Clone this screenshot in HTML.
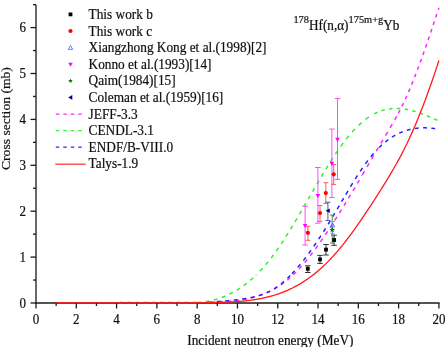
<!DOCTYPE html><html><head><meta charset="utf-8"><style>html,body{margin:0;padding:0;background:#fff;overflow:hidden;width:445px;height:347px;}svg{display:block;filter:blur(0.3px);}text{stroke:#111;stroke-width:0.2px;font-family:"Liberation Serif",serif;}</style></head><body>
<svg width="445" height="347" viewBox="0 0 445 347">
<rect width="445" height="347" fill="#fff"/>
<path d="M195.00 302.58 L195.25 302.57 L195.50 302.56 L195.75 302.55 L196.00 302.54 L196.25 302.53 L196.50 302.52 L196.75 302.51 L197.00 302.49 L197.25 302.48 L197.50 302.46 L197.75 302.45 L198.00 302.43 L198.25 302.42 L198.50 302.40 L198.75 302.38 L199.00 302.36 L199.25 302.34 L199.50 302.32 L199.75 302.30 L200.00 302.28 L200.25 302.26 L200.50 302.24 L200.75 302.21 L201.00 302.19 L201.25 302.16 L201.50 302.14 L201.75 302.11 L202.00 302.09 L202.25 302.06 L202.50 302.03 L202.75 302.00 L203.00 301.97 L203.25 301.94 L203.50 301.91 L203.75 301.88 L204.00 301.84 L204.25 301.81 L204.50 301.77 L204.75 301.74 L205.00 301.70 L205.25 301.67 L205.50 301.63 L205.75 301.59 L206.00 301.55 L206.25 301.51 L206.50 301.47 L206.75 301.43 L207.00 301.39 L207.25 301.35 L207.50 301.30 L207.75 301.26 L208.00 301.21 L208.25 301.17 L208.50 301.12 L208.75 301.07 L209.00 301.02 L209.25 300.98 L209.50 300.93 L209.75 300.87 L210.00 300.82 L210.25 300.77 L210.50 300.72 L210.75 300.66 L211.00 300.61 L211.25 300.55 L211.50 300.50 L211.75 300.44 L212.00 300.38 L212.25 300.32 L212.50 300.26 L212.75 300.20 L213.00 300.14 L213.25 300.08 L213.50 300.02 L213.75 299.95 L214.00 299.89 L214.25 299.82 L214.50 299.76 L214.75 299.69 L215.00 299.62 L215.25 299.55 L215.50 299.48 L215.75 299.41 L216.00 299.34 L216.25 299.27 L216.50 299.20 L216.75 299.12 L217.00 299.05 L217.25 298.97 L217.50 298.89 L217.75 298.82 L218.00 298.74 L218.25 298.66 L218.50 298.58 L218.75 298.50 L219.00 298.42 L219.25 298.33 L219.50 298.25 L219.75 298.16 L220.00 298.08 L220.25 297.99 L220.50 297.90 L220.75 297.82 L221.00 297.73 L221.25 297.64 L221.50 297.55 L221.75 297.45 L222.00 297.36 L222.25 297.27 L222.50 297.17 L222.75 297.08 L223.00 296.98 L223.25 296.88 L223.50 296.78 L223.75 296.68 L224.00 296.58 L224.25 296.48 L224.50 296.38 L224.75 296.28 L225.00 296.17 L225.25 296.07 L225.50 295.96 L225.75 295.86 L226.00 295.75 L226.25 295.64 L226.50 295.53 L226.75 295.42 L227.00 295.31 L227.25 295.19 L227.50 295.08 L227.75 294.96 L228.00 294.85 L228.25 294.73 L228.50 294.61 L228.75 294.50 L229.00 294.38 L229.25 294.25 L229.50 294.13 L229.75 294.01 L230.00 293.89 L230.25 293.76 L230.50 293.64 L230.75 293.51 L231.00 293.38 L231.25 293.25 L231.50 293.12 L231.75 292.99 L232.00 292.86 L232.25 292.73 L232.50 292.59 L232.75 292.46 L233.00 292.32 L233.25 292.19 L233.50 292.05 L233.75 291.91 L234.00 291.77 L234.25 291.63 L234.50 291.49 L234.75 291.34 L235.00 291.20 L235.25 291.05 L235.50 290.91 L235.75 290.76 L236.00 290.61 L236.25 290.46 L236.50 290.31 L236.75 290.16 L237.00 290.01 L237.25 289.85 L237.50 289.70 L237.75 289.54 L238.00 289.38 L238.25 289.23 L238.50 289.07 L238.75 288.91 L239.00 288.74 L239.25 288.58 L239.50 288.42 L239.75 288.25 L240.00 288.09 L240.25 287.92 L240.50 287.75 L240.75 287.58 L241.00 287.41 L241.25 287.24 L241.50 287.07 L241.75 286.89 L242.00 286.72 L242.25 286.54 L242.50 286.37 L242.75 286.19 L243.00 286.01 L243.25 285.83 L243.50 285.65 L243.75 285.47 L244.00 285.28 L244.25 285.10 L244.50 284.91 L244.75 284.72 L245.00 284.53 L245.25 284.34 L245.50 284.15 L245.75 283.96 L246.00 283.77 L246.25 283.57 L246.50 283.38 L246.75 283.18 L247.00 282.99 L247.25 282.79 L247.50 282.59 L247.75 282.38 L248.00 282.18 L248.25 281.98 L248.50 281.77 L248.75 281.57 L249.00 281.36 L249.25 281.15 L249.50 280.94 L249.75 280.73 L250.00 280.52 L250.25 280.31 L250.50 280.09 L250.75 279.88 L251.00 279.66 L251.25 279.44 L251.50 279.22 L251.75 279.00 L252.00 278.78 L252.25 278.56 L252.50 278.33 L252.75 278.11 L253.00 277.88 L253.25 277.65 L253.50 277.42 L253.75 277.19 L254.00 276.96 L254.25 276.73 L254.50 276.49 L254.75 276.26 L255.00 276.02 L255.25 275.78 L255.50 275.55 L255.75 275.31 L256.00 275.06" fill="none" stroke="#33ee33" stroke-width="1.50" stroke-dasharray="3.85 4.51" stroke-dashoffset="6.12"/>
<path d="M256.00 275.06 L256.25 274.82 L256.50 274.58 L256.75 274.33 L257.00 274.08 L257.25 273.84 L257.50 273.59 L257.75 273.34 L258.00 273.08 L258.25 272.83 L258.50 272.58 L258.75 272.32 L259.00 272.06 L259.25 271.81 L259.50 271.55 L259.75 271.29 L260.00 271.02 L260.25 270.76 L260.50 270.50 L260.75 270.23 L261.00 269.96 L261.25 269.69 L261.50 269.42 L261.75 269.15 L262.00 268.88 L262.25 268.60 L262.50 268.33 L262.75 268.05 L263.00 267.77 L263.25 267.50 L263.50 267.21 L263.75 266.93 L264.00 266.65 L264.25 266.36 L264.50 266.08 L264.75 265.79 L265.00 265.50 L265.25 265.21 L265.50 264.92 L265.75 264.63 L266.00 264.33 L266.25 264.04 L266.50 263.74 L266.75 263.44 L267.00 263.14 L267.25 262.84 L267.50 262.54 L267.75 262.24 L268.00 261.93 L268.25 261.62 L268.50 261.32 L268.75 261.01 L269.00 260.70 L269.25 260.38 L269.50 260.07 L269.75 259.76 L270.00 259.44 L270.25 259.12 L270.50 258.80 L270.75 258.48 L271.00 258.16 L271.25 257.84 L271.50 257.51 L271.75 257.18 L272.00 256.86 L272.25 256.53 L272.50 256.20 L272.75 255.87 L273.00 255.53 L273.25 255.20 L273.50 254.86 L273.75 254.52 L274.00 254.18 L274.25 253.84 L274.50 253.50 L274.75 253.16 L275.00 252.81 L275.25 252.47 L275.50 252.12 L275.75 251.77 L276.00 251.42 L276.25 251.07 L276.50 250.72 L276.75 250.37 L277.00 250.01 L277.25 249.66 L277.50 249.30 L277.75 248.94 L278.00 248.58 L278.25 248.22 L278.50 247.86 L278.75 247.50 L279.00 247.13 L279.25 246.77 L279.50 246.40 L279.75 246.03 L280.00 245.66 L280.25 245.29 L280.50 244.92 L280.75 244.55 L281.00 244.18 L281.25 243.80 L281.50 243.43 L281.75 243.05 L282.00 242.67 L282.25 242.29 L282.50 241.91 L282.75 241.53 L283.00 241.15 L283.25 240.77 L283.50 240.38 L283.75 240.00 L284.00 239.61 L284.25 239.22 L284.50 238.84 L284.75 238.45 L285.00 238.06 L285.25 237.67 L285.50 237.28 L285.75 236.88 L286.00 236.49 L286.25 236.10 L286.50 235.70 L286.75 235.31 L287.00 234.91 L287.25 234.51 L287.50 234.11 L287.75 233.71 L288.00 233.31 L288.25 232.91 L288.50 232.51 L288.75 232.11 L289.00 231.70 L289.25 231.30 L289.50 230.90 L289.75 230.49 L290.00 230.08 L290.25 229.68 L290.50 229.27 L290.75 228.86 L291.00 228.45 L291.25 228.04 L291.50 227.63 L291.75 227.22 L292.00 226.81 L292.25 226.39 L292.50 225.98 L292.75 225.57 L293.00 225.15 L293.25 224.74 L293.50 224.32 L293.75 223.91 L294.00 223.49 L294.25 223.07 L294.50 222.65 L294.75 222.24 L295.00 221.82 L295.25 221.40 L295.50 220.98 L295.75 220.56 L296.00 220.13 L296.25 219.71 L296.50 219.29 L296.75 218.87 L297.00 218.45 L297.25 218.02 L297.50 217.60 L297.75 217.17 L298.00 216.75 L298.25 216.32 L298.50 215.90 L298.75 215.47 L299.00 215.05 L299.25 214.62 L299.50 214.19 L299.75 213.76 L300.00 213.34 L300.25 212.91 L300.50 212.48 L300.75 212.05 L301.00 211.62 L301.25 211.19 L301.50 210.76 L301.75 210.33 L302.00 209.90 L302.25 209.47 L302.50 209.04 L302.75 208.61 L303.00 208.18 L303.25 207.75 L303.50 207.32 L303.75 206.88 L304.00 206.45 L304.25 206.02 L304.50 205.59 L304.75 205.16 L305.00 204.72 L305.25 204.29 L305.50 203.86 L305.75 203.42 L306.00 202.99 L306.25 202.56 L306.50 202.12 L306.75 201.69 L307.00 201.26 L307.25 200.82 L307.50 200.39 L307.75 199.96 L308.00 199.52 L308.25 199.09 L308.50 198.66 L308.75 198.22 L309.00 197.79 L309.25 197.36 L309.50 196.92 L309.75 196.49 L310.00 196.06 L310.25 195.62 L310.50 195.19 L310.75 194.76 L311.00 194.32 L311.25 193.89 L311.50 193.46 L311.75 193.02 L312.00 192.59 L312.25 192.16 L312.50 191.73 L312.75 191.29 L313.00 190.86 L313.25 190.43 L313.50 190.00 L313.75 189.57 L314.00 189.14 L314.25 188.71 L314.50 188.28 L314.75 187.84 L315.00 187.41 L315.25 186.98 L315.50 186.56 L315.75 186.13 L316.00 185.70 L316.25 185.27 L316.50 184.84 L316.75 184.41 L317.00 183.98 L317.25 183.56 L317.50 183.13 L317.75 182.70 L318.00 182.28 L318.25 181.85 L318.50 181.42 L318.75 181.00 L319.00 180.57 L319.25 180.15 L319.50 179.73 L319.75 179.30 L320.00 178.88 L320.25 178.46 L320.50 178.03 L320.75 177.61 L321.00 177.19 L321.25 176.77 L321.50 176.35 L321.75 175.93 L322.00 175.51 L322.25 175.09 L322.50 174.68 L322.75 174.26 L323.00 173.84 L323.25 173.43 L323.50 173.01 L323.75 172.60 L324.00 172.18 L324.25 171.77 L324.50 171.35 L324.75 170.94 L325.00 170.53 L325.25 170.12 L325.50 169.71 L325.75 169.30 L326.00 168.89 L326.25 168.48 L326.50 168.07 L326.75 167.67 L327.00 167.26 L327.25 166.86 L327.50 166.45 L327.75 166.05 L328.00 165.65 L328.25 165.24 L328.50 164.84 L328.75 164.44 L329.00 164.04 L329.25 163.64 L329.50 163.24 L329.75 162.85 L330.00 162.45" fill="none" stroke="#33ee33" stroke-width="1.50" stroke-dasharray="4.00 4.70" stroke-dashoffset="3.36"/>
<path d="M330.00 162.45 L330.25 162.06 L330.50 161.66 L330.75 161.27 L331.00 160.87 L331.25 160.48 L331.50 160.09 L331.75 159.70 L332.00 159.31 L332.25 158.93 L332.50 158.54 L332.75 158.15 L333.00 157.77 L333.25 157.38 L333.50 157.00 L333.75 156.62 L334.00 156.24 L334.25 155.86 L334.50 155.48 L334.75 155.10 L335.00 154.72 L335.25 154.35 L335.50 153.97 L335.75 153.60 L336.00 153.23 L336.25 152.86 L336.50 152.49 L336.75 152.12 L337.00 151.75 L337.25 151.39 L337.50 151.02 L337.75 150.66 L338.00 150.29 L338.25 149.93 L338.50 149.57 L338.75 149.21 L339.00 148.85 L339.25 148.50 L339.50 148.14 L339.75 147.79 L340.00 147.43 L340.25 147.08 L340.50 146.73 L340.75 146.38 L341.00 146.04 L341.25 145.69 L341.50 145.35 L341.75 145.00 L342.00 144.66 L342.25 144.32 L342.50 143.98 L342.75 143.64 L343.00 143.30 L343.25 142.97 L343.50 142.64 L343.75 142.30 L344.00 141.97 L344.25 141.64 L344.50 141.32 L344.75 140.99 L345.00 140.66 L345.25 140.34 L345.50 140.02 L345.75 139.70 L346.00 139.38 L346.25 139.06 L346.50 138.75 L346.75 138.43 L347.00 138.12 L347.25 137.81 L347.50 137.50 L347.75 137.19 L348.00 136.89 L348.25 136.58 L348.50 136.28 L348.75 135.98 L349.00 135.68 L349.25 135.38 L349.50 135.08 L349.75 134.79 L350.00 134.49 L350.25 134.20 L350.50 133.91 L350.75 133.62 L351.00 133.34 L351.25 133.05 L351.50 132.77 L351.75 132.48 L352.00 132.20 L352.25 131.93 L352.50 131.65 L352.75 131.37 L353.00 131.10 L353.25 130.83 L353.50 130.56 L353.75 130.29 L354.00 130.02 L354.25 129.75 L354.50 129.49 L354.75 129.23 L355.00 128.96 L355.25 128.71 L355.50 128.45 L355.75 128.19 L356.00 127.94 L356.25 127.68 L356.50 127.43 L356.75 127.18 L357.00 126.93 L357.25 126.69 L357.50 126.44 L357.75 126.20 L358.00 125.96 L358.25 125.72 L358.50 125.48 L358.75 125.25 L359.00 125.01 L359.25 124.78 L359.50 124.55 L359.75 124.32 L360.00 124.09 L360.25 123.86 L360.50 123.64 L360.75 123.41 L361.00 123.19 L361.25 122.97 L361.50 122.75 L361.75 122.54 L362.00 122.32 L362.25 122.11 L362.50 121.90 L362.75 121.69 L363.00 121.48 L363.25 121.27 L363.50 121.07 L363.75 120.86 L364.00 120.66 L364.25 120.46 L364.50 120.26 L364.75 120.07 L365.00 119.87 L365.25 119.68 L365.50 119.49 L365.75 119.30 L366.00 119.11 L366.25 118.92 L366.50 118.74 L366.75 118.55 L367.00 118.37 L367.25 118.19 L367.50 118.01 L367.75 117.84 L368.00 117.66 L368.25 117.49 L368.50 117.32 L368.75 117.15 L369.00 116.98 L369.25 116.81 L369.50 116.65 L369.75 116.49 L370.00 116.33 L370.25 116.17 L370.50 116.01 L370.75 115.85 L371.00 115.70 L371.25 115.55 L371.50 115.39 L371.75 115.25 L372.00 115.10" fill="none" stroke="#33ee33" stroke-width="1.50" stroke-dasharray="4.23 4.97" stroke-dashoffset="8.38"/>
<path d="M372.00 115.10 L372.25 114.95 L372.50 114.81 L372.75 114.67 L373.00 114.52 L373.25 114.39 L373.50 114.25 L373.75 114.11 L374.00 113.98 L374.25 113.85 L374.50 113.72 L374.75 113.59 L375.00 113.46 L375.25 113.33 L375.50 113.21 L375.75 113.09 L376.00 112.97 L376.25 112.85 L376.50 112.73 L376.75 112.62 L377.00 112.51 L377.25 112.39 L377.50 112.28 L377.75 112.18 L378.00 112.07 L378.25 111.96 L378.50 111.86 L378.75 111.76 L379.00 111.66 L379.25 111.56 L379.50 111.47 L379.75 111.37 L380.00 111.28 L380.25 111.19 L380.50 111.10 L380.75 111.01 L381.00 110.92 L381.25 110.84 L381.50 110.75 L381.75 110.67 L382.00 110.59 L382.25 110.51 L382.50 110.43 L382.75 110.36 L383.00 110.28 L383.25 110.21 L383.50 110.14 L383.75 110.07 L384.00 110.00 L384.25 109.94 L384.50 109.87 L384.75 109.81 L385.00 109.75 L385.25 109.69 L385.50 109.63 L385.75 109.57 L386.00 109.51 L386.25 109.46 L386.50 109.41 L386.75 109.35 L387.00 109.30 L387.25 109.26 L387.50 109.21 L387.75 109.16 L388.00 109.12 L388.25 109.08 L388.50 109.03 L388.75 108.99 L389.00 108.96 L389.25 108.92 L389.50 108.88 L389.75 108.85 L390.00 108.81 L390.25 108.78 L390.50 108.75 L390.75 108.72 L391.00 108.70 L391.25 108.67 L391.50 108.65 L391.75 108.62 L392.00 108.60 L392.25 108.58 L392.50 108.56 L392.75 108.54 L393.00 108.52 L393.25 108.51 L393.50 108.49 L393.75 108.48 L394.00 108.47 L394.25 108.46 L394.50 108.45 L394.75 108.44 L395.00 108.43 L395.25 108.43 L395.50 108.43 L395.75 108.42 L396.00 108.42 L396.25 108.42 L396.50 108.42 L396.75 108.42 L397.00 108.43 L397.25 108.43 L397.50 108.44 L397.75 108.44 L398.00 108.45 L398.25 108.46 L398.50 108.47 L398.75 108.48 L399.00 108.49 L399.25 108.51 L399.50 108.52 L399.75 108.54 L400.00 108.56 L400.25 108.57 L400.50 108.59 L400.75 108.61 L401.00 108.64 L401.25 108.66 L401.50 108.68 L401.75 108.71 L402.00 108.73 L402.25 108.76 L402.50 108.79 L402.75 108.82 L403.00 108.85 L403.25 108.88 L403.50 108.91 L403.75 108.95 L404.00 108.98 L404.25 109.02 L404.50 109.05 L404.75 109.09 L405.00 109.13 L405.25 109.17 L405.50 109.21 L405.75 109.25 L406.00 109.29 L406.25 109.34 L406.50 109.38 L406.75 109.43 L407.00 109.47 L407.25 109.52 L407.50 109.57 L407.75 109.62 L408.00 109.67 L408.25 109.72 L408.50 109.77 L408.75 109.82 L409.00 109.88 L409.25 109.93 L409.50 109.99 L409.75 110.04 L410.00 110.10 L410.25 110.16 L410.50 110.22 L410.75 110.28 L411.00 110.34 L411.25 110.40 L411.50 110.46 L411.75 110.53 L412.00 110.59 L412.25 110.66 L412.50 110.72 L412.75 110.79 L413.00 110.86 L413.25 110.93 L413.50 111.00 L413.75 111.06 L414.00 111.14 L414.25 111.21 L414.50 111.28 L414.75 111.35 L415.00 111.43 L415.25 111.50 L415.50 111.58 L415.75 111.65 L416.00 111.73 L416.25 111.81 L416.50 111.88 L416.75 111.96 L417.00 112.04 L417.25 112.12 L417.50 112.21 L417.75 112.29 L418.00 112.37 L418.25 112.45 L418.50 112.54 L418.75 112.62 L419.00 112.71 L419.25 112.79 L419.50 112.88 L419.75 112.97 L420.00 113.05 L420.25 113.14 L420.50 113.23 L420.75 113.32 L421.00 113.41 L421.25 113.50 L421.50 113.59 L421.75 113.68 L422.00 113.78 L422.25 113.87 L422.50 113.96 L422.75 114.06 L423.00 114.15 L423.25 114.25 L423.50 114.34 L423.75 114.44 L424.00 114.54 L424.25 114.64 L424.50 114.73 L424.75 114.83 L425.00 114.93 L425.25 115.03 L425.50 115.13 L425.75 115.23 L426.00 115.33 L426.25 115.43 L426.50 115.54 L426.75 115.64 L427.00 115.74 L427.25 115.85 L427.50 115.95 L427.75 116.05 L428.00 116.16 L428.25 116.26 L428.50 116.37 L428.75 116.48 L429.00 116.58 L429.25 116.69 L429.50 116.80 L429.75 116.90 L430.00 117.01 L430.25 117.12 L430.50 117.23 L430.75 117.34 L431.00 117.45 L431.25 117.56 L431.50 117.67 L431.75 117.78 L432.00 117.89 L432.25 118.00 L432.50 118.11 L432.75 118.22 L433.00 118.34 L433.25 118.45 L433.50 118.56 L433.75 118.67 L434.00 118.79 L434.25 118.90 L434.50 119.01 L434.75 119.13 L435.00 119.24 L435.25 119.36 L435.50 119.47 L435.75 119.59 L436.00 119.70 L436.25 119.82 L436.50 119.94 L436.75 120.05 L437.00 120.17 L437.25 120.28 L437.50 120.40 L437.75 120.52 L438.00 120.63 L438.25 120.75 L438.50 120.87 L438.75 120.99 L438.90 121.06" fill="none" stroke="#33ee33" stroke-width="1.50" stroke-dasharray="3.59 4.21" stroke-dashoffset="5.22"/>
<path d="M200.00 303.00 L200.25 303.00 L200.50 303.00 L200.75 303.00 L201.00 303.00 L201.25 303.00 L201.50 303.00 L201.75 303.00 L202.00 303.00 L202.25 303.00 L202.50 303.00 L202.75 302.99 L203.00 302.97 L203.25 302.95 L203.50 302.93 L203.75 302.91 L204.00 302.89 L204.25 302.87 L204.50 302.85 L204.75 302.83 L205.00 302.81 L205.25 302.79 L205.50 302.77 L205.75 302.75 L206.00 302.73 L206.25 302.71 L206.50 302.69 L206.75 302.67 L207.00 302.66 L207.25 302.64 L207.50 302.62 L207.75 302.60 L208.00 302.58 L208.25 302.57 L208.50 302.55 L208.75 302.53 L209.00 302.52 L209.25 302.50 L209.50 302.48 L209.75 302.47 L210.00 302.45 L210.25 302.43 L210.50 302.42 L210.75 302.40 L211.00 302.39 L211.25 302.37 L211.50 302.36 L211.75 302.34 L212.00 302.32 L212.25 302.31 L212.50 302.29 L212.75 302.28 L213.00 302.26 L213.25 302.25 L213.50 302.23 L213.75 302.22 L214.00 302.20 L214.25 302.19 L214.50 302.17 L214.75 302.16 L215.00 302.15 L215.25 302.13 L215.50 302.12 L215.75 302.10 L216.00 302.09 L216.25 302.07 L216.50 302.06 L216.75 302.04 L217.00 302.03 L217.25 302.01 L217.50 302.00 L217.75 301.99 L218.00 301.97 L218.25 301.96 L218.50 301.94 L218.75 301.93 L219.00 301.91 L219.25 301.90 L219.50 301.88 L219.75 301.87 L220.00 301.85 L220.25 301.84 L220.50 301.82 L220.75 301.81 L221.00 301.79 L221.25 301.78 L221.50 301.76 L221.75 301.75 L222.00 301.73 L222.25 301.71 L222.50 301.70 L222.75 301.68 L223.00 301.67 L223.25 301.65 L223.50 301.63 L223.75 301.62 L224.00 301.60 L224.25 301.58 L224.50 301.57 L224.75 301.55 L225.00 301.53 L225.25 301.52 L225.50 301.50 L225.75 301.48 L226.00 301.46 L226.25 301.44 L226.50 301.43 L226.75 301.41 L227.00 301.39 L227.25 301.37 L227.50 301.35 L227.75 301.33 L228.00 301.31 L228.25 301.29 L228.50 301.27 L228.75 301.25 L229.00 301.23 L229.25 301.21 L229.50 301.19 L229.75 301.17 L230.00 301.15 L230.25 301.13 L230.50 301.11 L230.75 301.08 L231.00 301.06 L231.25 301.04 L231.50 301.02 L231.75 300.99 L232.00 300.97 L232.25 300.95 L232.50 300.92 L232.75 300.90 L233.00 300.87 L233.25 300.85 L233.50 300.82 L233.75 300.80 L234.00 300.77 L234.25 300.74 L234.50 300.72 L234.75 300.69 L235.00 300.66 L235.25 300.64 L235.50 300.61 L235.75 300.58 L236.00 300.55 L236.25 300.52 L236.50 300.49 L236.75 300.46 L237.00 300.43 L237.25 300.40 L237.50 300.37 L237.75 300.34 L238.00 300.31 L238.25 300.28 L238.50 300.24 L238.75 300.21 L239.00 300.18 L239.25 300.14 L239.50 300.11 L239.75 300.07 L240.00 300.04 L240.25 300.00 L240.50 299.97 L240.75 299.93 L241.00 299.89 L241.25 299.86 L241.50 299.82 L241.75 299.78 L242.00 299.74 L242.25 299.70 L242.50 299.66 L242.75 299.62 L243.00 299.58 L243.25 299.54 L243.50 299.50 L243.75 299.45 L244.00 299.41 L244.25 299.37 L244.50 299.32 L244.75 299.28 L245.00 299.24 L245.25 299.19 L245.50 299.14 L245.75 299.10 L246.00 299.05 L246.25 299.00 L246.50 298.95 L246.75 298.90 L247.00 298.86 L247.25 298.81 L247.50 298.75 L247.75 298.70 L248.00 298.65 L248.25 298.60 L248.50 298.55 L248.75 298.49 L249.00 298.44 L249.25 298.38 L249.50 298.33 L249.75 298.27 L250.00 298.22 L250.25 298.16 L250.50 298.10 L250.75 298.04 L251.00 297.98 L251.25 297.92 L251.50 297.86 L251.75 297.80 L252.00 297.74 L252.25 297.68 L252.50 297.61 L252.75 297.55 L253.00 297.49 L253.25 297.42 L253.50 297.35 L253.75 297.29 L254.00 297.22 L254.25 297.15 L254.50 297.08 L254.75 297.01 L255.00 296.94 L255.25 296.87 L255.50 296.80 L255.75 296.73 L256.00 296.65 L256.25 296.58 L256.50 296.51 L256.75 296.43 L257.00 296.35 L257.25 296.28 L257.50 296.20 L257.75 296.12 L258.00 296.04 L258.25 295.96 L258.50 295.88 L258.75 295.80 L259.00 295.72 L259.25 295.63 L259.50 295.55 L259.75 295.46 L260.00 295.38 L260.25 295.29 L260.50 295.20 L260.75 295.12 L261.00 295.03 L261.25 294.94 L261.50 294.85 L261.75 294.76 L262.00 294.66 L262.25 294.57 L262.50 294.48 L262.75 294.38 L263.00 294.28 L263.25 294.19 L263.50 294.09 L263.75 293.99 L264.00 293.89 L264.25 293.79 L264.50 293.69 L264.75 293.59 L265.00 293.48 L265.25 293.38 L265.50 293.28 L265.75 293.17 L266.00 293.06 L266.25 292.95 L266.50 292.85 L266.75 292.74 L267.00 292.63 L267.25 292.51 L267.50 292.40 L267.75 292.29 L268.00 292.17 L268.25 292.06 L268.50 291.94 L268.75 291.82 L269.00 291.71 L269.25 291.59 L269.50 291.47 L269.75 291.35 L270.00 291.22 L270.25 291.10 L270.50 290.97 L270.75 290.85 L271.00 290.72 L271.25 290.60 L271.50 290.47 L271.75 290.34 L272.00 290.21 L272.25 290.07 L272.50 289.94 L272.75 289.81 L273.00 289.67 L273.25 289.54 L273.50 289.40 L273.75 289.26 L274.00 289.12 L274.25 288.98 L274.50 288.84 L274.75 288.70 L275.00 288.56 L275.25 288.41 L275.50 288.26 L275.75 288.12 L276.00 287.97 L276.25 287.82 L276.50 287.67 L276.75 287.52 L277.00 287.37 L277.25 287.21 L277.50 287.06 L277.75 286.90 L278.00 286.74 L278.25 286.59 L278.50 286.43 L278.75 286.27 L279.00 286.10 L279.25 285.94 L279.50 285.78 L279.75 285.61 L280.00 285.44 L280.25 285.28 L280.50 285.11 L280.75 284.94 L281.00 284.77 L281.25 284.59 L281.50 284.42 L281.75 284.24 L282.00 284.07 L282.25 283.89 L282.50 283.71 L282.75 283.53 L283.00 283.35 L283.25 283.17 L283.50 282.98 L283.75 282.80 L284.00 282.61 L284.25 282.42 L284.50 282.23 L284.75 282.04 L285.00 281.85 L285.25 281.66 L285.50 281.47 L285.75 281.27 L286.00 281.07 L286.25 280.88 L286.50 280.68 L286.75 280.47 L287.00 280.27 L287.25 280.07 L287.50 279.86 L287.75 279.66 L288.00 279.45 L288.25 279.24 L288.50 279.03 L288.75 278.82 L289.00 278.61 L289.25 278.39 L289.50 278.18 L289.75 277.96 L290.00 277.74 L290.25 277.52 L290.50 277.30 L290.75 277.08 L291.00 276.85 L291.25 276.63 L291.50 276.40 L291.75 276.17 L292.00 275.94 L292.25 275.71 L292.50 275.48 L292.75 275.25 L293.00 275.01 L293.25 274.77 L293.50 274.53 L293.75 274.29 L294.00 274.05 L294.25 273.81 L294.50 273.57 L294.75 273.32 L295.00 273.08 L295.25 272.83 L295.50 272.58 L295.75 272.33 L296.00 272.08 L296.25 271.82 L296.50 271.57 L296.75 271.31 L297.00 271.05 L297.25 270.80 L297.50 270.54 L297.75 270.28 L298.00 270.01 L298.25 269.75 L298.50 269.48 L298.75 269.22 L299.00 268.95 L299.25 268.68 L299.50 268.41 L299.75 268.14 L300.00 267.87" fill="none" stroke="#ff22ff" stroke-width="1.50" stroke-dasharray="3.72 4.36" stroke-dashoffset="4.78"/>
<path d="M300.00 267.87 L300.25 267.59 L300.50 267.32 L300.75 267.04 L301.00 266.76 L301.25 266.48 L301.50 266.20 L301.75 265.92 L302.00 265.64 L302.25 265.36 L302.50 265.07 L302.75 264.78 L303.00 264.50 L303.25 264.21 L303.50 263.92 L303.75 263.63 L304.00 263.34 L304.25 263.04 L304.50 262.75 L304.75 262.45 L305.00 262.16 L305.25 261.86 L305.50 261.56 L305.75 261.26 L306.00 260.96 L306.25 260.66 L306.50 260.35 L306.75 260.05 L307.00 259.74 L307.25 259.44 L307.50 259.13 L307.75 258.82 L308.00 258.51 L308.25 258.20 L308.50 257.89 L308.75 257.57 L309.00 257.26 L309.25 256.95 L309.50 256.63 L309.75 256.31 L310.00 255.99 L310.25 255.67 L310.50 255.35 L310.75 255.03 L311.00 254.71 L311.25 254.39 L311.50 254.06 L311.75 253.74 L312.00 253.41 L312.25 253.08 L312.50 252.76 L312.75 252.43 L313.00 252.10 L313.25 251.77 L313.50 251.43 L313.75 251.10 L314.00 250.77 L314.25 250.43 L314.50 250.10 L314.75 249.76 L315.00 249.42 L315.25 249.08 L315.50 248.75 L315.75 248.40 L316.00 248.06 L316.25 247.72 L316.50 247.38 L316.75 247.04 L317.00 246.69 L317.25 246.35 L317.50 246.00 L317.75 245.65 L318.00 245.30 L318.25 244.95 L318.50 244.60 L318.75 244.25 L319.00 243.90 L319.25 243.55 L319.50 243.20 L319.75 242.84 L320.00 242.49 L320.25 242.13 L320.50 241.78 L320.75 241.42 L321.00 241.06 L321.25 240.70 L321.50 240.35 L321.75 239.99 L322.00 239.62 L322.25 239.26 L322.50 238.90 L322.75 238.54 L323.00 238.17 L323.25 237.81 L323.50 237.44 L323.75 237.08 L324.00 236.71 L324.25 236.34 L324.50 235.98 L324.75 235.61 L325.00 235.24 L325.25 234.87 L325.50 234.50 L325.75 234.13 L326.00 233.75 L326.25 233.38 L326.50 233.01 L326.75 232.63 L327.00 232.26 L327.25 231.89 L327.50 231.51 L327.75 231.13 L328.00 230.76 L328.25 230.38 L328.50 230.00 L328.75 229.62 L329.00 229.24 L329.25 228.86 L329.50 228.48 L329.75 228.10 L330.00 227.72 L330.25 227.33 L330.50 226.95 L330.75 226.57 L331.00 226.18 L331.25 225.80 L331.50 225.41 L331.75 225.03 L332.00 224.64 L332.25 224.26 L332.50 223.87 L332.75 223.48 L333.00 223.09 L333.25 222.70 L333.50 222.32 L333.75 221.93 L334.00 221.54 L334.25 221.14 L334.50 220.75 L334.75 220.36 L335.00 219.97 L335.25 219.58 L335.50 219.18 L335.75 218.79 L336.00 218.40 L336.25 218.00 L336.50 217.61 L336.75 217.21 L337.00 216.82 L337.25 216.42 L337.50 216.03 L337.75 215.63 L338.00 215.23 L338.25 214.83 L338.50 214.44 L338.75 214.04 L339.00 213.64 L339.25 213.24 L339.50 212.84 L339.75 212.44 L340.00 212.04 L340.25 211.64 L340.50 211.24 L340.75 210.83 L341.00 210.43 L341.25 210.03 L341.50 209.63 L341.75 209.22 L342.00 208.82 L342.25 208.42 L342.50 208.01 L342.75 207.61 L343.00 207.20 L343.25 206.80 L343.50 206.39 L343.75 205.98 L344.00 205.58 L344.25 205.17 L344.50 204.76 L344.75 204.36 L345.00 203.95 L345.25 203.54 L345.50 203.13 L345.75 202.72 L346.00 202.31 L346.25 201.90 L346.50 201.49 L346.75 201.08 L347.00 200.67 L347.25 200.26 L347.50 199.85 L347.75 199.43 L348.00 199.02 L348.25 198.61 L348.50 198.20 L348.75 197.78 L349.00 197.37 L349.25 196.96 L349.50 196.54 L349.75 196.13 L350.00 195.71 L350.25 195.30 L350.50 194.88 L350.75 194.47 L351.00 194.05 L351.25 193.63 L351.50 193.22 L351.75 192.80 L352.00 192.38 L352.25 191.96 L352.50 191.55 L352.75 191.13 L353.00 190.71 L353.25 190.29 L353.50 189.87 L353.75 189.45 L354.00 189.03 L354.25 188.61 L354.50 188.19 L354.75 187.77 L355.00 187.35 L355.25 186.93 L355.50 186.51 L355.75 186.09 L356.00 185.67 L356.25 185.24 L356.50 184.82 L356.75 184.40 L357.00 183.98 L357.25 183.55 L357.50 183.13 L357.75 182.71 L358.00 182.28 L358.25 181.86 L358.50 181.43 L358.75 181.01 L359.00 180.59 L359.25 180.16 L359.50 179.74 L359.75 179.31 L360.00 178.88 L360.25 178.46 L360.50 178.03 L360.75 177.61 L361.00 177.18 L361.25 176.75 L361.50 176.33 L361.75 175.90 L362.00 175.47" fill="none" stroke="#ff22ff" stroke-width="1.50" stroke-dasharray="3.97 4.67" stroke-dashoffset="1.48"/>
<path d="M362.00 175.47 L362.25 175.05 L362.50 174.62 L362.75 174.19 L363.00 173.76 L363.25 173.34 L363.50 172.91 L363.75 172.48 L364.00 172.05 L364.25 171.63 L364.50 171.20 L364.75 170.77 L365.00 170.34 L365.25 169.91 L365.50 169.49 L365.75 169.06 L366.00 168.63 L366.25 168.20 L366.50 167.77 L366.75 167.34 L367.00 166.92 L367.25 166.49 L367.50 166.06 L367.75 165.63 L368.00 165.20 L368.25 164.78 L368.50 164.35 L368.75 163.92 L369.00 163.49 L369.25 163.06 L369.50 162.64 L369.75 162.21 L370.00 161.78 L370.25 161.35 L370.50 160.93 L370.75 160.50 L371.00 160.07 L371.25 159.65 L371.50 159.22 L371.75 158.79 L372.00 158.37 L372.25 157.94 L372.50 157.51 L372.75 157.09 L373.00 156.66 L373.25 156.24 L373.50 155.81 L373.75 155.39 L374.00 154.96 L374.25 154.54 L374.50 154.11 L374.75 153.69 L375.00 153.26 L375.25 152.84 L375.50 152.41 L375.75 151.99 L376.00 151.56 L376.25 151.14 L376.50 150.72 L376.75 150.29 L377.00 149.87 L377.25 149.45 L377.50 149.02 L377.75 148.60 L378.00 148.18 L378.25 147.76 L378.50 147.33 L378.75 146.91 L379.00 146.49 L379.25 146.07 L379.50 145.65 L379.75 145.22 L380.00 144.80 L380.25 144.38 L380.50 143.96 L380.75 143.54 L381.00 143.12 L381.25 142.69 L381.50 142.27 L381.75 141.85 L382.00 141.43 L382.25 141.01 L382.50 140.59 L382.75 140.17 L383.00 139.75 L383.25 139.33 L383.50 138.91 L383.75 138.49 L384.00 138.07 L384.25 137.65 L384.50 137.23 L384.75 136.81 L385.00 136.39 L385.25 135.97 L385.50 135.55 L385.75 135.13 L386.00 134.71 L386.25 134.29 L386.50 133.87 L386.75 133.45 L387.00 133.03 L387.25 132.61 L387.50 132.19 L387.75 131.77 L388.00 131.35 L388.25 130.93 L388.50 130.51 L388.75 130.09 L389.00 129.67 L389.25 129.25 L389.50 128.83 L389.75 128.41 L390.00 127.99 L390.25 127.56 L390.50 127.14 L390.75 126.71 L391.00 126.29 L391.25 125.86 L391.50 125.44 L391.75 125.01 L392.00 124.58 L392.25 124.15 L392.50 123.72 L392.75 123.29 L393.00 122.85 L393.25 122.42 L393.50 121.99 L393.75 121.55 L394.00 121.11 L394.25 120.67 L394.50 120.23 L394.75 119.79 L395.00 119.35 L395.25 118.90 L395.50 118.46 L395.75 118.01 L396.00 117.56 L396.25 117.11 L396.50 116.66 L396.75 116.20 L397.00 115.75" fill="none" stroke="#ff22ff" stroke-width="1.50" stroke-dasharray="4.19 4.91" stroke-dashoffset="8.32"/>
<path d="M397.00 115.75 L397.25 115.29 L397.50 114.83 L397.75 114.37 L398.00 113.90 L398.25 113.43 L398.50 112.97 L398.75 112.50 L399.00 112.02 L399.25 111.55 L399.50 111.07 L399.75 110.59 L400.00 110.11 L400.25 109.63 L400.50 109.14 L400.75 108.65 L401.00 108.16 L401.25 107.66 L401.50 107.17 L401.75 106.67 L402.00 106.16 L402.25 105.66 L402.50 105.15 L402.75 104.64 L403.00 104.12 L403.25 103.61 L403.50 103.09 L403.75 102.56 L404.00 102.04 L404.25 101.51 L404.50 100.98 L404.75 100.44 L405.00 99.90 L405.25 99.36 L405.50 98.82 L405.75 98.27 L406.00 97.72 L406.25 97.17 L406.50 96.62 L406.75 96.06 L407.00 95.50 L407.25 94.93 L407.50 94.37 L407.75 93.80 L408.00 93.23 L408.25 92.65 L408.50 92.08 L408.75 91.50 L409.00 90.91 L409.25 90.33 L409.50 89.74 L409.75 89.15 L410.00 88.56 L410.25 87.96 L410.50 87.36 L410.75 86.76 L411.00 86.16 L411.25 85.56 L411.50 84.95 L411.75 84.34 L412.00 83.72 L412.25 83.11 L412.50 82.49 L412.75 81.87 L413.00 81.25 L413.25 80.62 L413.50 80.00 L413.75 79.37 L414.00 78.74 L414.25 78.10 L414.50 77.47 L414.75 76.83 L415.00 76.19 L415.25 75.54 L415.50 74.90 L415.75 74.25 L416.00 73.60 L416.25 72.95 L416.50 72.30 L416.75 71.64 L417.00 70.99 L417.25 70.33 L417.50 69.66 L417.75 69.00 L418.00 68.34 L418.25 67.67 L418.50 67.00 L418.75 66.33 L419.00 65.65 L419.25 64.98 L419.50 64.30 L419.75 63.62 L420.00 62.94 L420.25 62.26 L420.50 61.58 L420.75 60.89 L421.00 60.20 L421.25 59.51 L421.50 58.82 L421.75 58.13 L422.00 57.43 L422.25 56.74 L422.50 56.04 L422.75 55.34 L423.00 54.64 L423.25 53.94 L423.50 53.23 L423.75 52.53 L424.00 51.82 L424.25 51.11 L424.50 50.40 L424.75 49.69 L425.00 48.98 L425.25 48.26 L425.50 47.55 L425.75 46.83 L426.00 46.11 L426.25 45.39 L426.50 44.67 L426.75 43.95 L427.00 43.22 L427.25 42.50 L427.50 41.77 L427.75 41.04 L428.00 40.31 L428.25 39.58 L428.50 38.85 L428.75 38.12 L429.00 37.39 L429.25 36.65 L429.50 35.92 L429.75 35.18 L430.00 34.45 L430.25 33.71 L430.50 32.97 L430.75 32.23 L431.00 31.49 L431.25 30.75 L431.50 30.01 L431.75 29.26 L432.00 28.52 L432.25 27.78 L432.50 27.03 L432.75 26.28 L433.00 25.54 L433.25 24.79 L433.50 24.04 L433.75 23.30 L434.00 22.55 L434.25 21.80 L434.50 21.05 L434.75 20.30 L435.00 19.55 L435.25 18.80 L435.50 18.05 L435.75 17.30 L436.00 16.55 L436.25 15.80 L436.50 15.04 L436.75 14.29 L437.00 13.54 L437.25 12.79 L437.50 12.04 L437.75 11.28 L438.00 10.53 L438.25 9.78 L438.50 9.02 L438.75 8.27 L438.90 7.82" fill="none" stroke="#ff22ff" stroke-width="1.50" stroke-dasharray="3.65 4.29" stroke-dashoffset="5.30"/>
<path d="M200.00 303.00 L200.25 303.00 L200.50 303.00 L200.75 303.00 L201.00 303.00 L201.25 303.00 L201.50 303.00 L201.75 303.00 L202.00 303.00 L202.25 303.00 L202.50 303.00 L202.75 303.00 L203.00 303.00 L203.25 302.97 L203.50 302.94 L203.75 302.91 L204.00 302.88 L204.25 302.85 L204.50 302.82 L204.75 302.79 L205.00 302.77 L205.25 302.74 L205.50 302.71 L205.75 302.68 L206.00 302.65 L206.25 302.63 L206.50 302.60 L206.75 302.57 L207.00 302.54 L207.25 302.52 L207.50 302.49 L207.75 302.46 L208.00 302.44 L208.25 302.41 L208.50 302.39 L208.75 302.36 L209.00 302.34 L209.25 302.31 L209.50 302.29 L209.75 302.26 L210.00 302.24 L210.25 302.21 L210.50 302.19 L210.75 302.16 L211.00 302.14 L211.25 302.12 L211.50 302.09 L211.75 302.07 L212.00 302.05 L212.25 302.02 L212.50 302.00 L212.75 301.98 L213.00 301.95 L213.25 301.93 L213.50 301.91 L213.75 301.89 L214.00 301.86 L214.25 301.84 L214.50 301.82 L214.75 301.80 L215.00 301.77 L215.25 301.75 L215.50 301.73 L215.75 301.71 L216.00 301.69 L216.25 301.67 L216.50 301.64 L216.75 301.62 L217.00 301.60 L217.25 301.58 L217.50 301.56 L217.75 301.54 L218.00 301.52 L218.25 301.50 L218.50 301.47 L218.75 301.45 L219.00 301.43 L219.25 301.41 L219.50 301.39 L219.75 301.37 L220.00 301.35 L220.25 301.33 L220.50 301.31 L220.75 301.28 L221.00 301.26 L221.25 301.24 L221.50 301.22 L221.75 301.20 L222.00 301.18 L222.25 301.16 L222.50 301.14 L222.75 301.12 L223.00 301.09 L223.25 301.07 L223.50 301.05 L223.75 301.03 L224.00 301.01 L224.25 300.99 L224.50 300.97 L224.75 300.95 L225.00 300.92 L225.25 300.90 L225.50 300.88 L225.75 300.86 L226.00 300.84 L226.25 300.81 L226.50 300.79 L226.75 300.77 L227.00 300.75 L227.25 300.73 L227.50 300.70 L227.75 300.68 L228.00 300.66 L228.25 300.63 L228.50 300.61 L228.75 300.59 L229.00 300.57 L229.25 300.54 L229.50 300.52 L229.75 300.50 L230.00 300.47 L230.25 300.45 L230.50 300.42 L230.75 300.40 L231.00 300.38 L231.25 300.35 L231.50 300.33 L231.75 300.30 L232.00 300.28 L232.25 300.25 L232.50 300.23 L232.75 300.20 L233.00 300.17 L233.25 300.15 L233.50 300.12 L233.75 300.10 L234.00 300.07 L234.25 300.04 L234.50 300.02 L234.75 299.99 L235.00 299.96 L235.25 299.93 L235.50 299.91 L235.75 299.88 L236.00 299.85 L236.25 299.82 L236.50 299.79 L236.75 299.76 L237.00 299.73 L237.25 299.70 L237.50 299.67 L237.75 299.64 L238.00 299.61 L238.25 299.58 L238.50 299.55 L238.75 299.52 L239.00 299.49 L239.25 299.46 L239.50 299.42 L239.75 299.39 L240.00 299.36 L240.25 299.33 L240.50 299.29 L240.75 299.26 L241.00 299.23 L241.25 299.19 L241.50 299.16 L241.75 299.12 L242.00 299.09 L242.25 299.05 L242.50 299.01 L242.75 298.98 L243.00 298.94 L243.25 298.90 L243.50 298.87 L243.75 298.83 L244.00 298.79 L244.25 298.75 L244.50 298.71 L244.75 298.68 L245.00 298.64 L245.25 298.60 L245.50 298.56 L245.75 298.51 L246.00 298.47 L246.25 298.43 L246.50 298.39 L246.75 298.35 L247.00 298.30 L247.25 298.26 L247.50 298.22 L247.75 298.17 L248.00 298.13 L248.25 298.08 L248.50 298.04 L248.75 297.99 L249.00 297.95 L249.25 297.90 L249.50 297.85 L249.75 297.80 L250.00 297.75 L250.25 297.70 L250.50 297.65 L250.75 297.60 L251.00 297.55 L251.25 297.50 L251.50 297.45 L251.75 297.39 L252.00 297.34 L252.25 297.28 L252.50 297.23 L252.75 297.17 L253.00 297.12 L253.25 297.06 L253.50 297.00 L253.75 296.94 L254.00 296.88 L254.25 296.82 L254.50 296.76 L254.75 296.70 L255.00 296.64 L255.25 296.57 L255.50 296.51 L255.75 296.44 L256.00 296.38 L256.25 296.31 L256.50 296.24 L256.75 296.18 L257.00 296.11 L257.25 296.04 L257.50 295.97 L257.75 295.89 L258.00 295.82 L258.25 295.75 L258.50 295.67 L258.75 295.60 L259.00 295.52 L259.25 295.44 L259.50 295.37 L259.75 295.29 L260.00 295.21 L260.25 295.12 L260.50 295.04 L260.75 294.96 L261.00 294.87 L261.25 294.79 L261.50 294.70 L261.75 294.61 L262.00 294.53 L262.25 294.44 L262.50 294.34 L262.75 294.25 L263.00 294.16 L263.25 294.07 L263.50 293.97 L263.75 293.87 L264.00 293.78 L264.25 293.68 L264.50 293.58 L264.75 293.48 L265.00 293.37 L265.25 293.27 L265.50 293.16 L265.75 293.06 L266.00 292.95 L266.25 292.84 L266.50 292.73 L266.75 292.62 L267.00 292.51 L267.25 292.40 L267.50 292.28 L267.75 292.16 L268.00 292.05 L268.25 291.93 L268.50 291.81 L268.75 291.69 L269.00 291.56 L269.25 291.44 L269.50 291.31 L269.75 291.18 L270.00 291.06 L270.25 290.93 L270.50 290.79 L270.75 290.66 L271.00 290.53 L271.25 290.39 L271.50 290.25 L271.75 290.11 L272.00 289.97 L272.25 289.83 L272.50 289.69 L272.75 289.54 L273.00 289.40 L273.25 289.25 L273.50 289.10 L273.75 288.95 L274.00 288.80 L274.25 288.64 L274.50 288.49 L274.75 288.33 L275.00 288.17 L275.25 288.01 L275.50 287.85 L275.75 287.68 L276.00 287.52 L276.25 287.35 L276.50 287.18 L276.75 287.01 L277.00 286.84 L277.25 286.66 L277.50 286.49 L277.75 286.31 L278.00 286.13 L278.25 285.95 L278.50 285.77 L278.75 285.59 L279.00 285.40 L279.25 285.22 L279.50 285.03 L279.75 284.84 L280.00 284.65 L280.25 284.45 L280.50 284.26 L280.75 284.06 L281.00 283.87 L281.25 283.67 L281.50 283.47 L281.75 283.26 L282.00 283.06 L282.25 282.86 L282.50 282.65 L282.75 282.44 L283.00 282.23 L283.25 282.02 L283.50 281.81 L283.75 281.59 L284.00 281.38 L284.25 281.16 L284.50 280.94 L284.75 280.72 L285.00 280.50 L285.25 280.28 L285.50 280.06 L285.75 279.83 L286.00 279.60 L286.25 279.37 L286.50 279.14 L286.75 278.91 L287.00 278.68 L287.25 278.45 L287.50 278.21 L287.75 277.97 L288.00 277.73 L288.25 277.49 L288.50 277.25 L288.75 277.01 L289.00 276.76 L289.25 276.52 L289.50 276.27 L289.75 276.02 L290.00 275.77 L290.25 275.52 L290.50 275.27 L290.75 275.02 L291.00 274.76 L291.25 274.50 L291.50 274.25 L291.75 273.99 L292.00 273.73" fill="none" stroke="#2222ff" stroke-width="1.50" stroke-dasharray="3.90 4.58" stroke-dashoffset="0.11"/>
<path d="M292.00 273.73 L292.25 273.46 L292.50 273.20 L292.75 272.94 L293.00 272.67 L293.25 272.40 L293.50 272.13 L293.75 271.86 L294.00 271.59 L294.25 271.32 L294.50 271.05 L294.75 270.77 L295.00 270.50 L295.25 270.22 L295.50 269.94 L295.75 269.66 L296.00 269.38 L296.25 269.09 L296.50 268.81 L296.75 268.53 L297.00 268.24 L297.25 267.95 L297.50 267.66 L297.75 267.37 L298.00 267.08 L298.25 266.79 L298.50 266.49 L298.75 266.20 L299.00 265.90 L299.25 265.60 L299.50 265.31 L299.75 265.01 L300.00 264.70 L300.25 264.40 L300.50 264.10 L300.75 263.79 L301.00 263.49 L301.25 263.18 L301.50 262.87 L301.75 262.56 L302.00 262.25 L302.25 261.94 L302.50 261.63 L302.75 261.31 L303.00 261.00 L303.25 260.68 L303.50 260.36 L303.75 260.05 L304.00 259.73 L304.25 259.41 L304.50 259.08 L304.75 258.76 L305.00 258.44 L305.25 258.11 L305.50 257.78 L305.75 257.46 L306.00 257.13 L306.25 256.80 L306.50 256.47 L306.75 256.14 L307.00 255.80 L307.25 255.47 L307.50 255.13 L307.75 254.80 L308.00 254.46 L308.25 254.12 L308.50 253.78 L308.75 253.44 L309.00 253.10 L309.25 252.76 L309.50 252.42 L309.75 252.07 L310.00 251.73 L310.25 251.38 L310.50 251.03 L310.75 250.68 L311.00 250.33 L311.25 249.98 L311.50 249.63 L311.75 249.28 L312.00 248.93 L312.25 248.57 L312.50 248.22 L312.75 247.86 L313.00 247.50 L313.25 247.15 L313.50 246.79 L313.75 246.43 L314.00 246.07 L314.25 245.70 L314.50 245.34 L314.75 244.98 L315.00 244.61 L315.25 244.25 L315.50 243.88 L315.75 243.51 L316.00 243.14 L316.25 242.77 L316.50 242.40 L316.75 242.03 L317.00 241.66 L317.25 241.29 L317.50 240.91 L317.75 240.54 L318.00 240.16 L318.25 239.79 L318.50 239.41 L318.75 239.03 L319.00 238.65 L319.25 238.27 L319.50 237.89 L319.75 237.51 L320.00 237.13 L320.25 236.74 L320.50 236.36 L320.75 235.98 L321.00 235.59 L321.25 235.20 L321.50 234.82 L321.75 234.43 L322.00 234.04 L322.25 233.65 L322.50 233.26 L322.75 232.87 L323.00 232.48 L323.25 232.08 L323.50 231.69 L323.75 231.29 L324.00 230.90 L324.25 230.50 L324.50 230.11 L324.75 229.71 L325.00 229.31 L325.25 228.91 L325.50 228.51 L325.75 228.11 L326.00 227.71 L326.25 227.31 L326.50 226.91 L326.75 226.50 L327.00 226.10 L327.25 225.69 L327.50 225.29 L327.75 224.88 L328.00 224.48 L328.25 224.07 L328.50 223.66 L328.75 223.25 L329.00 222.84 L329.25 222.43 L329.50 222.02 L329.75 221.61 L330.00 221.20 L330.25 220.78 L330.50 220.37 L330.75 219.96 L331.00 219.54 L331.25 219.13 L331.50 218.71 L331.75 218.30 L332.00 217.88 L332.25 217.46 L332.50 217.04 L332.75 216.63 L333.00 216.21 L333.25 215.79 L333.50 215.37 L333.75 214.95 L334.00 214.53 L334.25 214.11 L334.50 213.69 L334.75 213.27 L335.00 212.85 L335.25 212.42 L335.50 212.00 L335.75 211.58 L336.00 211.16 L336.25 210.73 L336.50 210.31 L336.75 209.89 L337.00 209.46 L337.25 209.04 L337.50 208.62 L337.75 208.19 L338.00 207.77 L338.25 207.34 L338.50 206.92 L338.75 206.50 L339.00 206.07 L339.25 205.65 L339.50 205.22 L339.75 204.80 L340.00 204.37 L340.25 203.95 L340.50 203.52 L340.75 203.10 L341.00 202.67 L341.25 202.25 L341.50 201.83 L341.75 201.40 L342.00 200.98 L342.25 200.55 L342.50 200.13 L342.75 199.70 L343.00 199.28 L343.25 198.86 L343.50 198.43 L343.75 198.01 L344.00 197.59 L344.25 197.17 L344.50 196.74 L344.75 196.32 L345.00 195.90" fill="none" stroke="#2222ff" stroke-width="1.50" stroke-dasharray="4.05 4.75" stroke-dashoffset="0.23"/>
<path d="M345.00 195.90 L345.25 195.48 L345.50 195.06 L345.75 194.64 L346.00 194.21 L346.25 193.79 L346.50 193.37 L346.75 192.96 L347.00 192.54 L347.25 192.12 L347.50 191.70 L347.75 191.28 L348.00 190.86 L348.25 190.45 L348.50 190.03 L348.75 189.62 L349.00 189.20 L349.25 188.79 L349.50 188.37 L349.75 187.96 L350.00 187.55 L350.25 187.13 L350.50 186.72 L350.75 186.31 L351.00 185.90 L351.25 185.49 L351.50 185.08 L351.75 184.67 L352.00 184.27 L352.25 183.86 L352.50 183.45 L352.75 183.05 L353.00 182.64 L353.25 182.24 L353.50 181.84 L353.75 181.43 L354.00 181.03 L354.25 180.63 L354.50 180.23 L354.75 179.83 L355.00 179.43 L355.25 179.04 L355.50 178.64 L355.75 178.25 L356.00 177.85 L356.25 177.46 L356.50 177.07 L356.75 176.68 L357.00 176.29 L357.25 175.90 L357.50 175.51 L357.75 175.12 L358.00 174.73 L358.25 174.35 L358.50 173.97 L358.75 173.58 L359.00 173.20 L359.25 172.82 L359.50 172.44 L359.75 172.06 L360.00 171.69 L360.25 171.31 L360.50 170.94 L360.75 170.56 L361.00 170.19 L361.25 169.82 L361.50 169.45 L361.75 169.08 L362.00 168.72 L362.25 168.35 L362.50 167.99 L362.75 167.63 L363.00 167.26 L363.25 166.90 L363.50 166.55 L363.75 166.19 L364.00 165.83 L364.25 165.48 L364.50 165.13 L364.75 164.77 L365.00 164.43 L365.25 164.08 L365.50 163.73 L365.75 163.39 L366.00 163.04 L366.25 162.70 L366.50 162.36 L366.75 162.02 L367.00 161.68 L367.25 161.35 L367.50 161.01 L367.75 160.68 L368.00 160.35 L368.25 160.02 L368.50 159.70 L368.75 159.37 L369.00 159.05 L369.25 158.72 L369.50 158.40 L369.75 158.09 L370.00 157.77 L370.25 157.46 L370.50 157.14 L370.75 156.83 L371.00 156.52 L371.25 156.22 L371.50 155.91 L371.75 155.61 L372.00 155.31 L372.25 155.01 L372.50 154.71 L372.75 154.41 L373.00 154.12 L373.25 153.83 L373.50 153.54 L373.75 153.25 L374.00 152.96 L374.25 152.68 L374.50 152.40 L374.75 152.12 L375.00 151.84 L375.25 151.56 L375.50 151.29 L375.75 151.02 L376.00 150.75 L376.25 150.48 L376.50 150.21 L376.75 149.95 L377.00 149.68" fill="none" stroke="#2222ff" stroke-width="1.50" stroke-dasharray="4.18 4.90" stroke-dashoffset="7.48"/>
<path d="M377.00 149.68 L377.25 149.42 L377.50 149.16 L377.75 148.91 L378.00 148.65 L378.25 148.40 L378.50 148.14 L378.75 147.89 L379.00 147.65 L379.25 147.40 L379.50 147.16 L379.75 146.91 L380.00 146.67 L380.25 146.43 L380.50 146.20 L380.75 145.96 L381.00 145.73 L381.25 145.49 L381.50 145.26 L381.75 145.04 L382.00 144.81 L382.25 144.58 L382.50 144.36 L382.75 144.14 L383.00 143.92 L383.25 143.70 L383.50 143.49 L383.75 143.27 L384.00 143.06 L384.25 142.85 L384.50 142.64 L384.75 142.43 L385.00 142.23 L385.25 142.02 L385.50 141.82 L385.75 141.62 L386.00 141.42 L386.25 141.23 L386.50 141.03 L386.75 140.84 L387.00 140.64 L387.25 140.45 L387.50 140.27 L387.75 140.08 L388.00 139.89 L388.25 139.71 L388.50 139.53 L388.75 139.35 L389.00 139.17 L389.25 138.99 L389.50 138.81 L389.75 138.64 L390.00 138.47 L390.25 138.30 L390.50 138.13 L390.75 137.96 L391.00 137.79 L391.25 137.63 L391.50 137.47 L391.75 137.31 L392.00 137.15 L392.25 136.99 L392.50 136.83 L392.75 136.68 L393.00 136.52 L393.25 136.37 L393.50 136.22 L393.75 136.07 L394.00 135.92 L394.25 135.78 L394.50 135.63 L394.75 135.49 L395.00 135.35 L395.25 135.21 L395.50 135.07 L395.75 134.94 L396.00 134.80 L396.25 134.67 L396.50 134.53 L396.75 134.40 L397.00 134.27 L397.25 134.15 L397.50 134.02 L397.75 133.89 L398.00 133.77 L398.25 133.65 L398.50 133.53 L398.75 133.41 L399.00 133.29 L399.25 133.17 L399.50 133.06 L399.75 132.95 L400.00 132.83 L400.25 132.72 L400.50 132.61 L400.75 132.51 L401.00 132.40 L401.25 132.29 L401.50 132.19 L401.75 132.09 L402.00 131.99 L402.25 131.89 L402.50 131.79 L402.75 131.69 L403.00 131.60 L403.25 131.50 L403.50 131.41 L403.75 131.32 L404.00 131.23 L404.25 131.14 L404.50 131.05 L404.75 130.96 L405.00 130.88 L405.25 130.80 L405.50 130.71 L405.75 130.63 L406.00 130.55 L406.25 130.47 L406.50 130.40 L406.75 130.32 L407.00 130.24 L407.25 130.17 L407.50 130.10 L407.75 130.03 L408.00 129.96 L408.25 129.89 L408.50 129.82 L408.75 129.76 L409.00 129.69 L409.25 129.63 L409.50 129.56 L409.75 129.50 L410.00 129.44 L410.25 129.38 L410.50 129.33 L410.75 129.27 L411.00 129.21 L411.25 129.16 L411.50 129.11 L411.75 129.06 L412.00 129.00 L412.25 128.96 L412.50 128.91 L412.75 128.86 L413.00 128.81 L413.25 128.77 L413.50 128.73 L413.75 128.68 L414.00 128.64 L414.25 128.60 L414.50 128.56 L414.75 128.52 L415.00 128.49 L415.25 128.45 L415.50 128.41 L415.75 128.38 L416.00 128.35 L416.25 128.32 L416.50 128.29 L416.75 128.26 L417.00 128.23 L417.25 128.20 L417.50 128.17 L417.75 128.15 L418.00 128.12 L418.25 128.10 L418.50 128.08 L418.75 128.06 L419.00 128.04 L419.25 128.02 L419.50 128.00 L419.75 127.98 L420.00 127.97 L420.25 127.95 L420.50 127.94 L420.75 127.92 L421.00 127.91 L421.25 127.90 L421.50 127.89 L421.75 127.88 L422.00 127.87 L422.25 127.86 L422.50 127.86 L422.75 127.85 L423.00 127.85 L423.25 127.84 L423.50 127.84 L423.75 127.84 L424.00 127.84 L424.25 127.84 L424.50 127.84 L424.75 127.84 L425.00 127.84 L425.25 127.85 L425.50 127.85 L425.75 127.86 L426.00 127.86 L426.25 127.87 L426.50 127.88 L426.75 127.89 L427.00 127.90 L427.25 127.91 L427.50 127.92 L427.75 127.93 L428.00 127.94 L428.25 127.96 L428.50 127.97 L428.75 127.99 L429.00 128.00 L429.25 128.02 L429.50 128.04 L429.75 128.06 L430.00 128.08 L430.25 128.10 L430.50 128.12 L430.75 128.14 L431.00 128.16 L431.25 128.18 L431.50 128.21 L431.75 128.23 L432.00 128.26 L432.25 128.29 L432.50 128.31 L432.75 128.34 L433.00 128.37 L433.25 128.40 L433.50 128.43 L433.75 128.46 L434.00 128.49 L434.25 128.52 L434.50 128.55 L434.75 128.59 L435.00 128.62 L435.25 128.66 L435.50 128.69 L435.75 128.73 L436.00 128.77 L436.25 128.80 L436.50 128.84 L436.75 128.88 L437.00 128.92 L437.25 128.96 L437.50 129.00 L437.75 129.04 L438.00 129.08 L438.25 129.13 L438.50 129.17 L438.75 129.21 L438.90 129.24" fill="none" stroke="#2222ff" stroke-width="1.50" stroke-dasharray="3.79 4.45" stroke-dashoffset="5.14"/>
<g stroke="#1a1a1a" stroke-width="1.3" fill="none">
<path d="M36.00 4.65 V303.65"/>
<path d="M35.35 303.00 H439.55"/>
<path d="M30.50 303.00 H36.00"/>
<path d="M30.50 257.10 H36.00"/>
<path d="M30.50 211.20 H36.00"/>
<path d="M30.50 165.30 H36.00"/>
<path d="M30.50 119.40 H36.00"/>
<path d="M30.50 73.50 H36.00"/>
<path d="M30.50 27.60 H36.00"/>
<path d="M33.00 280.05 H36.00"/>
<path d="M33.00 234.15 H36.00"/>
<path d="M33.00 188.25 H36.00"/>
<path d="M33.00 142.35 H36.00"/>
<path d="M33.00 96.45 H36.00"/>
<path d="M33.00 50.55 H36.00"/>
<path d="M33.00 4.65 H36.00"/>
<path d="M36.00 303.00 V308.50"/>
<path d="M76.29 303.00 V308.50"/>
<path d="M116.58 303.00 V308.50"/>
<path d="M156.87 303.00 V308.50"/>
<path d="M197.16 303.00 V308.50"/>
<path d="M237.45 303.00 V308.50"/>
<path d="M277.74 303.00 V308.50"/>
<path d="M318.03 303.00 V308.50"/>
<path d="M358.32 303.00 V308.50"/>
<path d="M398.61 303.00 V308.50"/>
<path d="M438.90 303.00 V308.50"/>
<path d="M56.14 303.00 V306.00"/>
<path d="M96.44 303.00 V306.00"/>
<path d="M136.72 303.00 V306.00"/>
<path d="M177.01 303.00 V306.00"/>
<path d="M217.31 303.00 V306.00"/>
<path d="M257.60 303.00 V306.00"/>
<path d="M297.88 303.00 V306.00"/>
<path d="M338.18 303.00 V306.00"/>
<path d="M378.46 303.00 V306.00"/>
<path d="M418.75 303.00 V306.00"/>
</g>
<path d="M120 302.5 H200" fill="none" stroke="#ff22ff" stroke-width="1.4" stroke-dasharray="3.7 4.5" stroke-dashoffset="1"/>
<path d="M55.7 302.6 H205" fill="none" stroke="#e42828" stroke-width="1.25"/>
<path d="M200.00 303.00 L201.00 302.96 L202.00 302.92 L203.00 302.89 L204.00 302.85 L205.00 302.82 L206.00 302.78 L207.00 302.75 L208.00 302.72 L209.00 302.69 L210.00 302.66 L211.00 302.64 L212.00 302.61 L213.00 302.58 L214.00 302.55 L215.00 302.52 L216.00 302.50 L217.00 302.47 L218.00 302.44 L219.00 302.41 L220.00 302.38 L221.00 302.35 L222.00 302.31 L223.00 302.28 L224.00 302.24 L225.00 302.21 L226.00 302.17 L227.00 302.13 L228.00 302.09 L229.00 302.04 L230.00 301.99 L231.00 301.94 L232.00 301.89 L233.00 301.84 L234.00 301.78 L235.00 301.72 L236.00 301.65 L237.00 301.58 L238.00 301.51 L239.00 301.44 L240.00 301.36 L241.00 301.28 L242.00 301.19 L243.00 301.10 L244.00 301.00 L245.00 300.90 L246.00 300.80 L247.00 300.69 L248.00 300.57 L249.00 300.45 L250.00 300.32 L251.00 300.19 L252.00 300.06 L253.00 299.91 L254.00 299.76 L255.00 299.61 L256.00 299.45 L257.00 299.28 L258.00 299.11 L259.00 298.93 L260.00 298.74 L261.00 298.54 L262.00 298.34 L263.00 298.13 L264.00 297.92 L265.00 297.69 L266.00 297.46 L267.00 297.22 L268.00 296.97 L269.00 296.72 L270.00 296.45 L271.00 296.18 L272.00 295.90 L273.00 295.61 L274.00 295.31 L275.00 295.00 L276.00 294.68 L277.00 294.35 L278.00 294.02 L279.00 293.67 L280.00 293.31 L281.00 292.95 L282.00 292.57 L283.00 292.18 L284.00 291.79 L285.00 291.38 L286.00 290.96 L287.00 290.53 L288.00 290.09 L289.00 289.63 L290.00 289.17 L291.00 288.70 L292.00 288.21 L293.00 287.71 L294.00 287.20 L295.00 286.68 L296.00 286.14 L297.00 285.59 L298.00 285.03 L299.00 284.46 L300.00 283.88 L301.00 283.28 L302.00 282.67 L303.00 282.04 L304.00 281.40 L305.00 280.75 L306.00 280.08 L307.00 279.40 L308.00 278.71 L309.00 278.00 L310.00 277.28 L311.00 276.54 L312.00 275.79 L313.00 275.02 L314.00 274.24 L315.00 273.44 L316.00 272.63 L317.00 271.80 L318.00 270.96 L319.00 270.10 L320.00 269.22 L321.00 268.33 L322.00 267.43 L323.00 266.50 L324.00 265.56 L325.00 264.60 L326.00 263.63 L327.00 262.64 L328.00 261.63 L329.00 260.61 L330.00 259.57 L331.00 258.51 L332.00 257.43 L333.00 256.34 L334.00 255.23 L335.00 254.10 L336.00 252.96 L337.00 251.81 L338.00 250.63 L339.00 249.45 L340.00 248.25 L341.00 247.03 L342.00 245.80 L343.00 244.56 L344.00 243.30 L345.00 242.03 L346.00 240.74 L347.00 239.45 L348.00 238.14 L349.00 236.81 L350.00 235.48 L351.00 234.13 L352.00 232.78 L353.00 231.41 L354.00 230.03 L355.00 228.64 L356.00 227.23 L357.00 225.82 L358.00 224.40 L359.00 222.97 L360.00 221.53 L361.00 220.07 L362.00 218.61 L363.00 217.15 L364.00 215.67 L365.00 214.18 L366.00 212.69 L367.00 211.19 L368.00 209.68 L369.00 208.16 L370.00 206.64 L371.00 205.11 L372.00 203.57 L373.00 202.03 L374.00 200.48 L375.00 198.93 L376.00 197.37 L377.00 195.80 L378.00 194.24 L379.00 192.66 L380.00 191.08 L381.00 189.50 L382.00 187.91 L383.00 186.32 L384.00 184.71 L385.00 183.10 L386.00 181.48 L387.00 179.85 L388.00 178.21 L389.00 176.55 L390.00 174.89 L391.00 173.20 L392.00 171.50 L393.00 169.79 L394.00 168.05 L395.00 166.30 L396.00 164.53 L397.00 162.74 L398.00 160.92 L399.00 159.08 L400.00 157.22 L401.00 155.33 L402.00 153.42 L403.00 151.48 L404.00 149.51 L405.00 147.52 L406.00 145.49 L407.00 143.43 L408.00 141.34 L409.00 139.21 L410.00 137.06 L411.00 134.86 L412.00 132.64 L413.00 130.37 L414.00 128.08 L415.00 125.75 L416.00 123.39 L417.00 120.99 L418.00 118.56 L419.00 116.10 L420.00 113.60 L421.00 111.07 L422.00 108.51 L423.00 105.92 L424.00 103.29 L425.00 100.64 L426.00 97.95 L427.00 95.23 L428.00 92.48 L429.00 89.70 L430.00 86.89 L431.00 84.05 L432.00 81.17 L433.00 78.27 L434.00 75.34 L435.00 72.38 L436.00 69.39 L437.00 66.37 L438.00 63.32 L438.90 60.55" fill="none" stroke="#ff1a1a" stroke-width="1.3"/>
<g fill="#111">
<text x="26.10" y="307.60" font-size="13.00" text-anchor="end" transform="translate(0 307.60) scale(1 1.100) translate(0 -307.60)">0</text>
<text x="26.10" y="261.70" font-size="13.00" text-anchor="end" transform="translate(0 261.70) scale(1 1.100) translate(0 -261.70)">1</text>
<text x="26.10" y="215.80" font-size="13.00" text-anchor="end" transform="translate(0 215.80) scale(1 1.100) translate(0 -215.80)">2</text>
<text x="26.10" y="169.90" font-size="13.00" text-anchor="end" transform="translate(0 169.90) scale(1 1.100) translate(0 -169.90)">3</text>
<text x="26.10" y="124.00" font-size="13.00" text-anchor="end" transform="translate(0 124.00) scale(1 1.100) translate(0 -124.00)">4</text>
<text x="26.10" y="78.10" font-size="13.00" text-anchor="end" transform="translate(0 78.10) scale(1 1.100) translate(0 -78.10)">5</text>
<text x="26.10" y="32.20" font-size="13.00" text-anchor="end" transform="translate(0 32.20) scale(1 1.100) translate(0 -32.20)">6</text>
<text x="36.00" y="323.60" font-size="13.00" text-anchor="middle" transform="translate(0 323.60) scale(1 1.050) translate(0 -323.60)">0</text>
<text x="76.29" y="323.60" font-size="13.00" text-anchor="middle" transform="translate(0 323.60) scale(1 1.050) translate(0 -323.60)">2</text>
<text x="116.58" y="323.60" font-size="13.00" text-anchor="middle" transform="translate(0 323.60) scale(1 1.050) translate(0 -323.60)">4</text>
<text x="156.87" y="323.60" font-size="13.00" text-anchor="middle" transform="translate(0 323.60) scale(1 1.050) translate(0 -323.60)">6</text>
<text x="197.16" y="323.60" font-size="13.00" text-anchor="middle" transform="translate(0 323.60) scale(1 1.050) translate(0 -323.60)">8</text>
<text x="237.45" y="323.60" font-size="13.00" text-anchor="middle" transform="translate(0 323.60) scale(1 1.050) translate(0 -323.60)">10</text>
<text x="277.74" y="323.60" font-size="13.00" text-anchor="middle" transform="translate(0 323.60) scale(1 1.050) translate(0 -323.60)">12</text>
<text x="318.03" y="323.60" font-size="13.00" text-anchor="middle" transform="translate(0 323.60) scale(1 1.050) translate(0 -323.60)">14</text>
<text x="358.32" y="323.60" font-size="13.00" text-anchor="middle" transform="translate(0 323.60) scale(1 1.050) translate(0 -323.60)">16</text>
<text x="398.61" y="323.60" font-size="13.00" text-anchor="middle" transform="translate(0 323.60) scale(1 1.050) translate(0 -323.60)">18</text>
<text x="438.90" y="323.60" font-size="13.00" text-anchor="middle" transform="translate(0 323.60) scale(1 1.050) translate(0 -323.60)">20</text>
<text x="187.30" y="344.60" font-size="13.30" text-anchor="start" transform="translate(0 344.60) scale(1 1.160) translate(0 -344.60)">Incident neutron energy (MeV)</text>
<text transform="translate(9.8,170) rotate(-90) scale(1.025 1)" font-size="13.3">Cross section (mb)</text>
<text transform="translate(0 29.9) scale(1 1.060) translate(0 -29.9)" x="293.4" y="29.9" font-size="13.2"><tspan font-size="10.4" dy="-6.6">178</tspan><tspan dy="6.6">Hf(n,α)</tspan><tspan font-size="10.4" dy="-6.6">175m+g</tspan><tspan dy="6.6">Yb</tspan></text>
</g>
<path d="M305.10 206.20 V245.00 M302.30 206.20 H307.90 M302.30 245.00 H307.90" stroke="#ff4cff" stroke-width="1" fill="none"/>
<path d="M317.90 167.50 V223.20 M315.10 167.50 H320.70 M315.10 223.20 H320.70" stroke="#ff4cff" stroke-width="1" fill="none"/>
<path d="M331.90 129.10 V197.50 M329.10 129.10 H334.70 M329.10 197.50 H334.70" stroke="#ff4cff" stroke-width="1" fill="none"/>
<path d="M337.50 98.60 V179.40 M334.70 98.60 H340.30 M334.70 179.40 H340.30" stroke="#ff4cff" stroke-width="1" fill="none"/>
<path d="M307.90 226.20 V240.30 M305.40 226.20 H310.40 M305.40 240.30 H310.40" stroke="#ff5a5a" stroke-width="1" fill="none"/>
<path d="M320.00 205.50 V221.40 M317.50 205.50 H322.50 M317.50 221.40 H322.50" stroke="#ff5a5a" stroke-width="1" fill="none"/>
<path d="M325.80 182.70 V203.40 M323.30 182.70 H328.30 M323.30 203.40 H328.30" stroke="#ff5a5a" stroke-width="1" fill="none"/>
<path d="M333.70 164.50 V184.40 M331.20 164.50 H336.20 M331.20 184.40 H336.20" stroke="#ff5a5a" stroke-width="1" fill="none"/>
<path d="M307.80 265.80 V272.50 M305.00 265.80 H310.60 M305.00 272.50 H310.60" stroke="#333" stroke-width="1" fill="none"/>
<path d="M320.00 255.40 V263.40 M317.20 255.40 H322.80 M317.20 263.40 H322.80" stroke="#333" stroke-width="1" fill="none"/>
<path d="M326.00 244.50 V255.00 M323.20 244.50 H328.80 M323.20 255.00 H328.80" stroke="#333" stroke-width="1" fill="none"/>
<path d="M334.10 235.20 V245.30 M331.30 235.20 H336.90 M331.30 245.30 H336.90" stroke="#333" stroke-width="1" fill="none"/>
<path d="M327.90 202.20 V220.50 M325.40 202.20 H330.40 M325.40 220.50 H330.40" stroke="#5a5aa0" stroke-width="1" fill="none"/>
<path d="M332.20 215.10 V243.10 M330.00 215.10 H334.40 M330.00 243.10 H334.40" stroke="#3a9a3a" stroke-width="1" fill="none"/>
<path d="M332.60 221.50 V233.80 M330.40 221.50 H334.80 M330.40 233.80 H334.80" stroke="#8888ff" stroke-width="1" fill="none"/>
<path d="M302.80 224.00 L307.40 224.00 L305.10 228.10 Z" fill="#ff00ff"/>
<path d="M315.60 194.00 L320.20 194.00 L317.90 198.10 Z" fill="#ff00ff"/>
<path d="M329.60 161.80 L334.20 161.80 L331.90 165.90 Z" fill="#ff00ff"/>
<path d="M335.20 137.80 L339.80 137.80 L337.50 141.90 Z" fill="#ff00ff"/>
<circle cx="307.90" cy="232.80" r="2.10" fill="#ff0000"/>
<circle cx="320.00" cy="213.10" r="2.10" fill="#ff0000"/>
<circle cx="325.80" cy="193.10" r="2.10" fill="#ff0000"/>
<circle cx="333.70" cy="174.30" r="2.10" fill="#ff0000"/>
<rect x="305.90" y="266.90" width="3.80" height="3.80" fill="#000"/>
<rect x="318.10" y="257.50" width="3.80" height="3.80" fill="#000"/>
<rect x="324.10" y="247.70" width="3.80" height="3.80" fill="#000"/>
<rect x="332.20" y="238.10" width="3.80" height="3.80" fill="#000"/>
<path d="M329.74 208.50 L329.74 213.10 L325.60 210.80 Z" fill="#000080"/>
<path d="M330.40 226.86 L334.80 226.86 L332.60 222.90 Z" fill="none" stroke="#6666ff" stroke-width="0.9"/>
<path d="M332.20 226.90 L332.97 228.74 L334.96 228.90 L333.44 230.20 L333.90 232.15 L332.20 231.11 L330.50 232.15 L330.96 230.20 L329.44 228.90 L331.43 228.74 Z" fill="#007700"/>
<g fill="#111">
<text x="88.60" y="19.00" font-size="13.30" text-anchor="start" transform="translate(0 19.00) scale(1 1.100) translate(0 -19.00)">This work b</text>
<text x="88.60" y="35.60" font-size="13.30" text-anchor="start" transform="translate(0 35.60) scale(1 1.100) translate(0 -35.60)">This work c</text>
<text x="88.60" y="52.20" font-size="13.30" text-anchor="start" transform="translate(0 52.20) scale(1 1.100) translate(0 -52.20)">Xiangzhong Kong et al.(1998)[2]</text>
<text x="88.60" y="68.80" font-size="13.30" text-anchor="start" transform="translate(0 68.80) scale(1 1.100) translate(0 -68.80)">Konno et al.(1993)[14]</text>
<text x="88.60" y="85.40" font-size="13.30" text-anchor="start" transform="translate(0 85.40) scale(1 1.100) translate(0 -85.40)">Qaim(1984)[15]</text>
<text x="88.60" y="102.00" font-size="13.30" text-anchor="start" transform="translate(0 102.00) scale(1 1.100) translate(0 -102.00)">Coleman et al.(1959)[16]</text>
<text x="88.60" y="118.60" font-size="13.30" text-anchor="start" transform="translate(0 118.60) scale(1 1.100) translate(0 -118.60)">JEFF-3.3</text>
<text x="88.60" y="135.20" font-size="13.30" text-anchor="start" transform="translate(0 135.20) scale(1 1.100) translate(0 -135.20)">CENDL-3.1</text>
<text x="88.60" y="151.80" font-size="13.30" text-anchor="start" transform="translate(0 151.80) scale(1 1.100) translate(0 -151.80)">ENDF/B-VIII.0</text>
<text x="88.60" y="168.40" font-size="13.30" text-anchor="start" transform="translate(0 168.40) scale(1 1.100) translate(0 -168.40)">Talys-1.9</text>
</g>
<rect x="68.60" y="12.50" width="3.80" height="3.80" fill="#000"/>
<circle cx="70.50" cy="31.00" r="2.10" fill="#ff0000"/>
<path d="M68.30 49.36 L72.70 49.36 L70.50 45.40 Z" fill="none" stroke="#6666ff" stroke-width="0.9"/>
<path d="M68.20 62.70 L72.80 62.70 L70.50 66.80 Z" fill="#ff00ff"/>
<path d="M70.50 78.40 L71.13 79.93 L72.78 80.06 L71.53 81.13 L71.91 82.74 L70.50 81.88 L69.09 82.74 L69.47 81.13 L68.22 80.06 L69.87 79.93 Z" fill="#007700"/>
<path d="M72.34 95.10 L72.34 99.70 L68.20 97.40 Z" fill="#000080"/>
<path d="M55.8 114.00 H81.8" stroke="#ff22ff" stroke-width="1.25" stroke-dasharray="3.4 4.1"/>
<path d="M55.8 130.60 H81.8" stroke="#33ee33" stroke-width="1.25" stroke-dasharray="3.4 4.1"/>
<path d="M55.8 147.20 H81.8" stroke="#2222ff" stroke-width="1.25" stroke-dasharray="3.4 4.1"/>
<path d="M55.3 164.20 H85.6" stroke="#ff3a3a" stroke-width="1.3"/>
</svg></body></html>
